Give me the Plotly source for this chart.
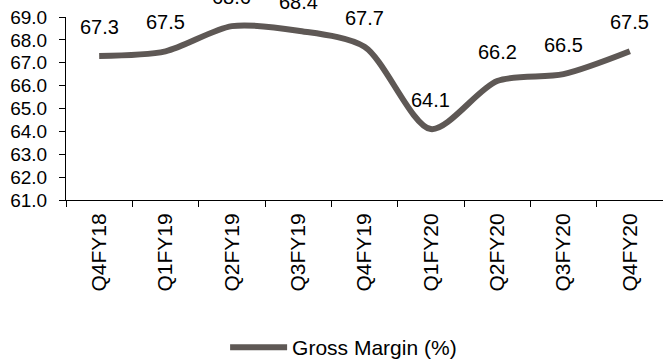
import plotly.graph_objects as go

quarters = ["Q4FY18", "Q1FY19", "Q2FY19", "Q3FY19", "Q4FY19",
            "Q1FY20", "Q2FY20", "Q3FY20", "Q4FY20"]
gross_margin = [67.3, 67.5, 68.6, 68.4, 67.7, 64.1, 66.2, 66.5, 67.5]

LINE_COLOR = "#5e5855"
FONT = "Liberation Sans, Arial, sans-serif"

fig = go.Figure()
fig.add_trace(go.Scatter(
    x=quarters, y=gross_margin, mode="lines",
    line=dict(color=LINE_COLOR, width=6, shape="spline", smoothing=0.8),
    name="Gross Margin (%)",
))

# value labels above each point
for q, v in zip(quarters, gross_margin):
    fig.add_annotation(x=q, y=v, text=f"{v:.1f}", showarrow=False,
                       yshift=29, font=dict(size=20, color="#000000", family=FONT))

fig.update_layout(
    width=663, height=362,
    margin=dict(l=66, r=0, t=17, b=162, autoexpand=False),
    paper_bgcolor="white", plot_bgcolor="white",
    font=dict(family=FONT, size=19, color="#000000"),
    showlegend=True,
    legend=dict(orientation="h", x=0.465, xanchor="center",
                yref="container", y=0.04, yanchor="middle",
                font=dict(size=21), itemwidth=57),
)
fig.update_xaxes(
    type="category", showline=True, linecolor="#000000", linewidth=1,
    ticks="outside", ticklen=6, tickcolor="#000000", tickson="boundaries",
    tickangle=-90, showgrid=False, range=[-0.5, 8.5],
    tickfont=dict(size=21), ticklabelstandoff=4,
)
fig.update_yaxes(
    range=[61, 69], dtick=1, tickformat=".1f", showline=True, linecolor="#000000",
    linewidth=1, ticks="outside", ticklen=6, tickcolor="#000000", showgrid=False,
    zeroline=False, tickfont=dict(size=19), ticklabelstandoff=8,
)

fig.write_html("out.html")
